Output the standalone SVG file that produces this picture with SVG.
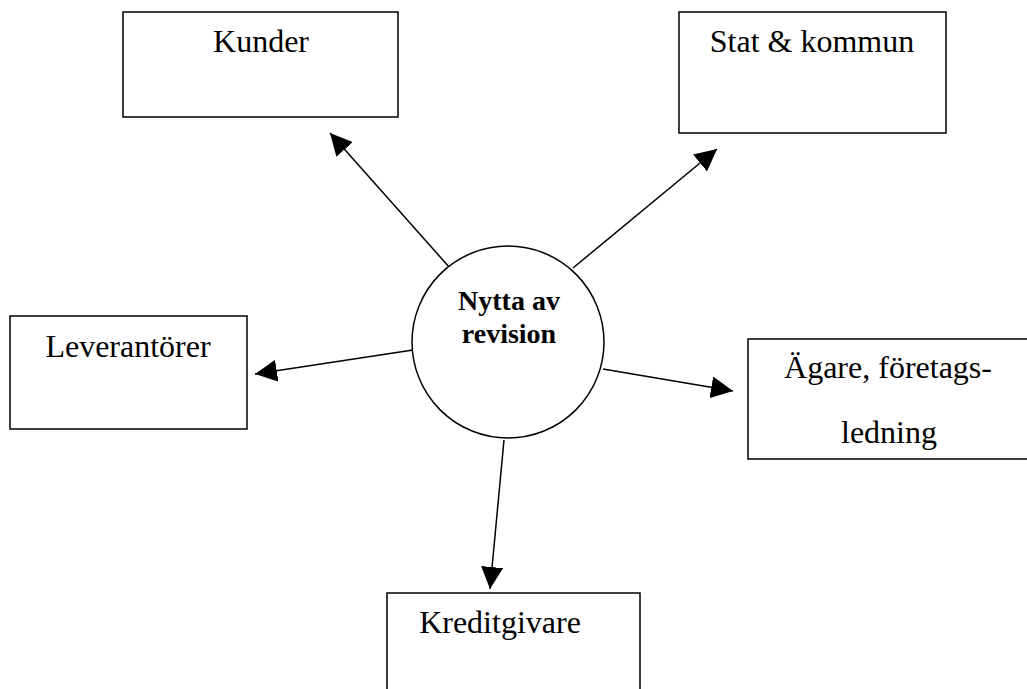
<svg xmlns="http://www.w3.org/2000/svg" width="1027" height="689" viewBox="0 0 1027 689">
<style>
.box{fill:#fff;stroke:#000;stroke-width:1.5}
.lbl{font-family:"Liberation Serif","Times New Roman",serif;font-size:32px;fill:#000;text-anchor:middle}
.ctr{font-family:"Liberation Serif","Times New Roman",serif;font-size:28px;font-weight:bold;fill:#000;text-anchor:middle}
.con{stroke:#000;stroke-width:1.5;fill:none;marker-end:url(#ah)}
</style>
<defs>
<marker id="ah" markerUnits="userSpaceOnUse" markerWidth="22" markerHeight="22" refX="20" refY="10" orient="auto" viewBox="0 0 20 20">
<path d="M0,0 L20,10 L0,20 z" fill="#000"/>
</marker>
</defs>
<rect width="1027" height="689" fill="#fff"/>
<g id="kunder">
<rect class="box" x="123" y="12" width="275" height="105"/>
<text class="lbl" x="261" y="52">Kunder</text>
</g>
<g id="stat">
<rect class="box" x="679" y="12" width="267" height="121"/>
<text class="lbl" x="812" y="52">Stat &amp; kommun</text>
</g>
<g id="leverantorer">
<rect class="box" x="10" y="316" width="237" height="113"/>
<text class="lbl" x="128" y="357">Leverantörer</text>
</g>
<g id="agare">
<rect class="box" x="748" y="339" width="290" height="120"/>
<text class="lbl" x="888" y="378">Ägare, företags-</text>
<text class="lbl" x="889" y="443">ledning</text>
</g>
<g id="kreditgivare">
<rect class="box" x="387" y="593" width="253" height="120"/>
<text class="lbl" x="500" y="633">Kreditgivare</text>
</g>
<g id="connectors">
<line class="con" x1="450" y1="268" x2="330" y2="133"/>
<line class="con" x1="573" y1="268" x2="717" y2="149"/>
<line class="con" x1="413" y1="350" x2="255" y2="374"/>
<line class="con" x1="603" y1="369" x2="733" y2="391"/>
<line class="con" x1="504" y1="440" x2="490" y2="589"/>
</g>
<g id="nytta">
<circle cx="508" cy="342" r="96" fill="#fff" stroke="#000" stroke-width="1.5"/>
<text class="ctr" x="509" y="310">Nytta av</text>
<text class="ctr" x="509" y="343">revision</text>
</g>
</svg>
